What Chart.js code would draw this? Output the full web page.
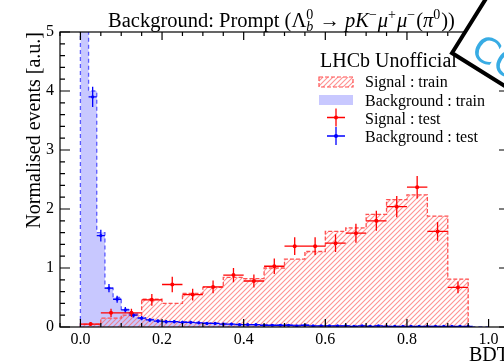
<!DOCTYPE html>
<html>
<head>
<meta charset="utf-8">
<script src="https://cdn.jsdelivr.net/npm/chart.js@4.4.1/dist/chart.umd.min.js"></script>
<style>
  html, body { margin: 0; padding: 0; overflow: hidden; background: #fff; }
  #wrap { width: 560px; height: 363px; }
</style>
</head>
<body>
<div id="wrap"><canvas id="bdtChart" width="560" height="363"></canvas></div>
<script>
// Signal: bins of 0.05 on the BDT output
const sigBinLow = [0.00, 0.05, 0.10, 0.15, 0.20, 0.25, 0.30, 0.35, 0.40, 0.45,
                   0.50, 0.55, 0.60, 0.65, 0.70, 0.75, 0.80, 0.85, 0.90];
const sigBinWidth = 0.05;
const sigTrain = [0.05, 0.15, 0.20, 0.47, 0.40, 0.57, 0.67, 0.84, 0.82, 1.00,
                  1.15, 1.28, 1.62, 1.68, 1.91, 2.16, 2.24, 1.88, 0.81];
const sigTest = [0.05, 0.24, 0.24, 0.46, 0.72, 0.55, 0.68, 0.88, 0.78, 1.03,
                 1.37, 1.37, 1.42, 1.59, 1.80, 2.04, 2.37, 1.62, 0.67];
const sigTestErr = [0.03, 0.07, 0.07, 0.10, 0.13, 0.10, 0.11, 0.12, 0.11, 0.13,
                    0.15, 0.15, 0.15, 0.16, 0.17, 0.18, 0.19, 0.16, 0.10];

// Background: bins of 0.02
const bkgBinLow = [0.00, 0.02, 0.04, 0.06, 0.08, 0.10, 0.12, 0.14, 0.16, 0.18,
                   0.20, 0.22, 0.24, 0.26, 0.28, 0.30, 0.32, 0.34, 0.36, 0.38,
                   0.40, 0.42, 0.44, 0.46, 0.48, 0.50, 0.52, 0.54, 0.56, 0.58,
                   0.60, 0.62, 0.64, 0.66, 0.68, 0.70, 0.72, 0.74, 0.76, 0.78,
                   0.80, 0.82, 0.84, 0.86, 0.88, 0.90, 0.92, 0.94, 0.96, 0.98];
const bkgBinWidth = 0.02;
const bkgTrain = [41.0, 4.00, 1.60, 0.66, 0.50, 0.30, 0.22, 0.16, 0.13, 0.11,
                  0.10, 0.09, 0.09, 0.08, 0.08, 0.07, 0.06, 0.06, 0.05, 0.05,
                  0.04, 0.04, 0.04, 0.03, 0.03, 0.03, 0.03, 0.03, 0.02, 0.02,
                  0.02, 0.02, 0.02, 0.02, 0.02, 0.02, 0.02, 0.01, 0.01, 0.01,
                  0.01, 0.01, 0.01, 0.01, 0.01, 0.01, 0.01, 0.01, 0.00, 0.00];
const bkgTest = [40.5, 3.90, 1.55, 0.66, 0.47, 0.29, 0.20, 0.15, 0.12, 0.10,
                 0.09, 0.09, 0.08, 0.08, 0.07, 0.06, 0.06, 0.05, 0.05, 0.04,
                 0.04, 0.04, 0.03, 0.03, 0.03, 0.03, 0.02, 0.03, 0.02, 0.02,
                 0.02, 0.02, 0.02, 0.01, 0.02, 0.01, 0.02, 0.01, 0.01, 0.01,
                 0.01, 0.01, 0.01, 0.01, 0.01, 0.01, 0.01, 0.01, null, null];
const bkgTestErr = [0.50, 0.17, 0.10, 0.07, 0.06, 0.05, 0.04, 0.035, 0.03, 0.03,
                    0.03, 0.025, 0.025, 0.025, 0.02, 0.02, 0.02, 0.02, 0.02, 0.015,
                    0.015, 0.015, 0.015, 0.015, 0.015, 0.015, 0.01, 0.015, 0.01, 0.01,
                    0.01, 0.01, 0.01, 0.01, 0.01, 0.01, 0.01, 0.01, 0.01, 0.01,
                    0.01, 0.01, 0.01, 0.01, 0.01, 0.01, 0.01, 0.01, 0.01, 0.01];

// Axis ticks
const xTickValues = [0.0, 0.2, 0.4, 0.6, 0.8, 1.0];
const yTickValues = [0, 1, 2, 3, 4, 5];

const SERIF = '"Liberation Serif", "Times New Roman", serif';
const RED = 'rgb(255,0,0)';
const BLUE = 'rgb(0,0,255)';

//Hatched fill for the signal histogram
function makeHatch() {
    const c = document.createElement('canvas');
    c.width = 5; c.height = 5;
    const g = c.getContext('2d');
    g.strokeStyle = 'rgba(255,100,100,0.7)';
    g.lineWidth = 1.1;
    g.beginPath();
    g.moveTo(0, 5); g.lineTo(5, 0);
    g.moveTo(-1, 1); g.lineTo(1, -1);
    g.moveTo(4, 6); g.lineTo(6, 4);
    g.stroke();
    return g.createPattern(c, 'repeat');
}
const hatch = makeHatch();

//Step outline: start at zero, one point per bin low edge, drop at the end
function histPoints(low, width, values) {
    const pts = [{ x: low[0], y: 0 }];
    values.forEach((v, i) => pts.push({ x: low[i], y: v }));
    pts.push({ x: low[low.length - 1] + width, y: 0 });
    return pts;
}

//Horizontal and vertical error bars, broken with null gaps
function errorBars(low, width, values, errs) {
    const pts = [];
    values.forEach((v, i) => {
        if (v === null) return;
        const c = low[i] + width / 2;
        pts.push({ x: low[i], y: v }, { x: low[i] + width, y: v }, { x: c, y: null });
        pts.push({ x: c, y: v - errs[i] }, { x: c, y: v + errs[i] }, { x: c, y: null });
    });
    return pts;
}

function centres(low, width, values) {
    return values.map((v, i) => ({ x: low[i] + width / 2, y: v }));
}

//Frame, inner ticks, title, legend and the corner stamp
const decorations = {
    id: 'decorations',
    afterDraw(chart) {
        const ctx = chart.ctx;
        const xs = chart.scales.x, ys = chart.scales.y;
        const { left, right, top, bottom } = chart.chartArea;

        ctx.save();
        ctx.strokeStyle = '#000';
        ctx.lineWidth = 1.2;
        ctx.strokeRect(left, top, right - left, bottom - top);

        ctx.beginPath();
        for (let v = -0.05; v <= 1.0501; v += 0.05) {
            const px = xs.getPixelForValue(v);
            const major = xTickValues.some(t => Math.abs(t - v) < 1e-6);
            const len = major ? 8 : 4;
            ctx.moveTo(px, bottom); ctx.lineTo(px, bottom - len);
            ctx.moveTo(px, top); ctx.lineTo(px, top + len);
        }
        for (let v = 0; v <= 5.0001; v += 0.2) {
            const py = ys.getPixelForValue(v);
            const major = yTickValues.some(t => Math.abs(t - v) < 1e-6);
            const len = major ? 10 : 5;
            ctx.moveTo(left, py); ctx.lineTo(left + len, py);
            ctx.moveTo(right, py); ctx.lineTo(right - len, py);
        }
        ctx.stroke();

        // title with sub/superscripts
        const big = 20.5, small = 14;
        const parts = [
            { text: 'Background: Prompt (' },
            { text: 'Λ' },
            { sup: '0', sub: 'b' },
            { text: ' → ' },
            { text: 'pK', italic: true },
            { sup: '−' },
            { text: 'μ', italic: true },
            { sup: '+' },
            { text: 'μ', italic: true },
            { sup: '−' },
            { text: '(' },
            { text: 'π', italic: true },
            { sup: '0' },
            { text: '))' }
        ];
        const fontOf = (size, italic) => (italic ? 'italic ' : '') + size + 'px ' + SERIF;
        let total = 0;
        parts.forEach(p => {
            if (p.text) {
                ctx.font = fontOf(big, p.italic);
                p.w = ctx.measureText(p.text).width;
            } else {
                ctx.font = fontOf(small, false);
                let w = ctx.measureText(p.sup).width;
                if (p.sub) { ctx.font = fontOf(small, true); w = Math.max(w, ctx.measureText(p.sub).width); }
                p.w = w + 1;
            }
            total += p.w;
        });
        let tx = 281.5 - total / 2;
        const base = 26.5;
        ctx.fillStyle = '#000';
        ctx.textAlign = 'left';
        ctx.textBaseline = 'alphabetic';
        parts.forEach(p => {
            if (p.text) {
                ctx.font = fontOf(big, p.italic);
                ctx.fillText(p.text, tx, base);
            } else {
                ctx.font = fontOf(small, false);
                ctx.fillText(p.sup, tx, base - 8);
                if (p.sub) { ctx.font = fontOf(small, true); ctx.fillText(p.sub, tx, base + 4); }
            }
            tx += p.w;
        });

        // legend
        ctx.font = '20px ' + SERIF;
        ctx.fillText('LHCb Unofficial', 320, 67);
        ctx.font = '16px ' + SERIF;
        const rows = [
            { label: 'Signal : train', y: 87 },
            { label: 'Background : train', y: 105.5 },
            { label: 'Signal : test', y: 123.5 },
            { label: 'Background : test', y: 142 }
        ];
        rows.forEach(r => { ctx.fillStyle = '#000'; ctx.fillText(r.label, 365, r.y); });

        ctx.fillStyle = hatch;
        ctx.fillRect(319, 77, 34, 10);
        ctx.setLineDash([4, 2]);
        ctx.strokeStyle = 'rgb(255,80,80)';
        ctx.lineWidth = 1.2;
        ctx.strokeRect(319, 77, 34, 10);
        ctx.setLineDash([]);
        ctx.fillStyle = 'rgb(200,200,255)';
        ctx.fillRect(319, 95, 34, 10);

        [[RED, 117.5], [BLUE, 136]].forEach(([col, cy]) => {
            ctx.strokeStyle = col;
            ctx.fillStyle = col;
            ctx.lineWidth = 1.3;
            ctx.beginPath();
            ctx.moveTo(327, cy); ctx.lineTo(345, cy);
            ctx.moveTo(336, cy - 9); ctx.lineTo(336, cy + 9);
            ctx.stroke();
            ctx.beginPath();
            ctx.arc(336, cy, 2, 0, Math.PI * 2);
            ctx.fill();
        });

        // stamp in the top right corner
        ctx.translate(452, 53);
        ctx.rotate(32 * Math.PI / 180);
        ctx.fillStyle = '#fff';
        ctx.fillRect(0, -400, 400, 400);
        ctx.strokeStyle = '#000';
        ctx.lineWidth = 4;
        ctx.beginPath();
        ctx.moveTo(0, -400); ctx.lineTo(0, 0); ctx.lineTo(400, 0);
        ctx.stroke();
        ctx.fillStyle = 'rgb(56,172,228)';
        ctx.font = '36px "DejaVu Sans"';
        ctx.fillText('COPY', 15, -8);
        ctx.restore();
    }
};

const data = {
    datasets: [
        {
            label: 'Signal : test',
            data: centres(sigBinLow, sigBinWidth, sigTest),
            showLine: false,
            pointRadius: 2,
            pointBackgroundColor: RED,
            pointBorderWidth: 0,
            order: 0
        },
        {
            label: 'Signal : test errors',
            data: errorBars(sigBinLow, sigBinWidth, sigTest, sigTestErr),
            borderColor: RED,
            borderWidth: 1.3,
            pointRadius: 0,
            spanGaps: false,
            order: 1
        },
        {
            label: 'Background : test',
            data: centres(bkgBinLow, bkgBinWidth, bkgTest),
            showLine: false,
            pointRadius: 1.6,
            pointBackgroundColor: BLUE,
            pointBorderWidth: 0,
            order: 2
        },
        {
            label: 'Background : test errors',
            data: errorBars(bkgBinLow, bkgBinWidth, bkgTest, bkgTestErr),
            borderColor: BLUE,
            borderWidth: 1.3,
            pointRadius: 0,
            spanGaps: false,
            order: 3
        },
        {
            label: 'Signal : train',
            data: histPoints(sigBinLow, sigBinWidth, sigTrain),
            stepped: 'before',
            borderColor: 'rgb(255,80,80)',
            borderWidth: 1.3,
            borderDash: [4, 2],
            backgroundColor: hatch,
            fill: 'origin',
            pointRadius: 0,
            order: 4
        },
        {
            label: 'Background : train',
            data: histPoints(bkgBinLow, bkgBinWidth, bkgTrain),
            stepped: 'before',
            borderColor: 'rgb(90,90,255)',
            borderWidth: 1.3,
            borderDash: [4, 3],
            backgroundColor: 'rgb(200,200,255)',
            fill: 'origin',
            pointRadius: 0,
            order: 5
        }
    ]
};

const config = {
    type: 'line',
    data: data,
    options: {
        responsive: false,
        animation: false,
        events: [],
        layout: { padding: { top: 32, right: 51, left: 0, bottom: 0 } },
        plugins: {
            legend: { display: false },
            title: { display: false },
            tooltip: { enabled: false }
        },
        scales: {
            x: {
                type: 'linear',
                min: -0.05,
                max: 1.05,
                afterBuildTicks: s => { s.ticks = xTickValues.map(v => ({ value: v })); },
                afterFit: s => { s.height = 36; },
                grid: { display: false, drawTicks: false },
                border: { display: false },
                ticks: {
                    padding: 3,
                    autoSkip: false,
                    maxRotation: 0,
                    color: '#000',
                    font: { family: SERIF, size: 16 },
                    callback: v => v.toFixed(1)
                },
                title: {
                    display: true,
                    text: 'BDT',
                    align: 'end',
                    color: '#000',
                    padding: 0,
                    font: { family: SERIF, size: 20, lineHeight: 0.7 }
                }
            },
            y: {
                min: 0,
                max: 5,
                afterBuildTicks: s => { s.ticks = yTickValues.map(v => ({ value: v })); },
                afterFit: s => { s.width = 60; },
                grid: { display: false, drawTicks: false },
                border: { display: false },
                ticks: {
                    padding: 6,
                    color: '#000',
                    font: { family: SERIF, size: 16 }
                },
                title: {
                    display: true,
                    text: 'Normalised events [a.u.]',
                    align: 'end',
                    color: '#000',
                    padding: { top: 23, bottom: 0 },
                    font: { family: SERIF, size: 20 }
                }
            }
        }
    },
    plugins: [decorations]
};

const ctx = document.getElementById('bdtChart').getContext('2d');
new Chart(ctx, config);
</script>
</body>
</html>
